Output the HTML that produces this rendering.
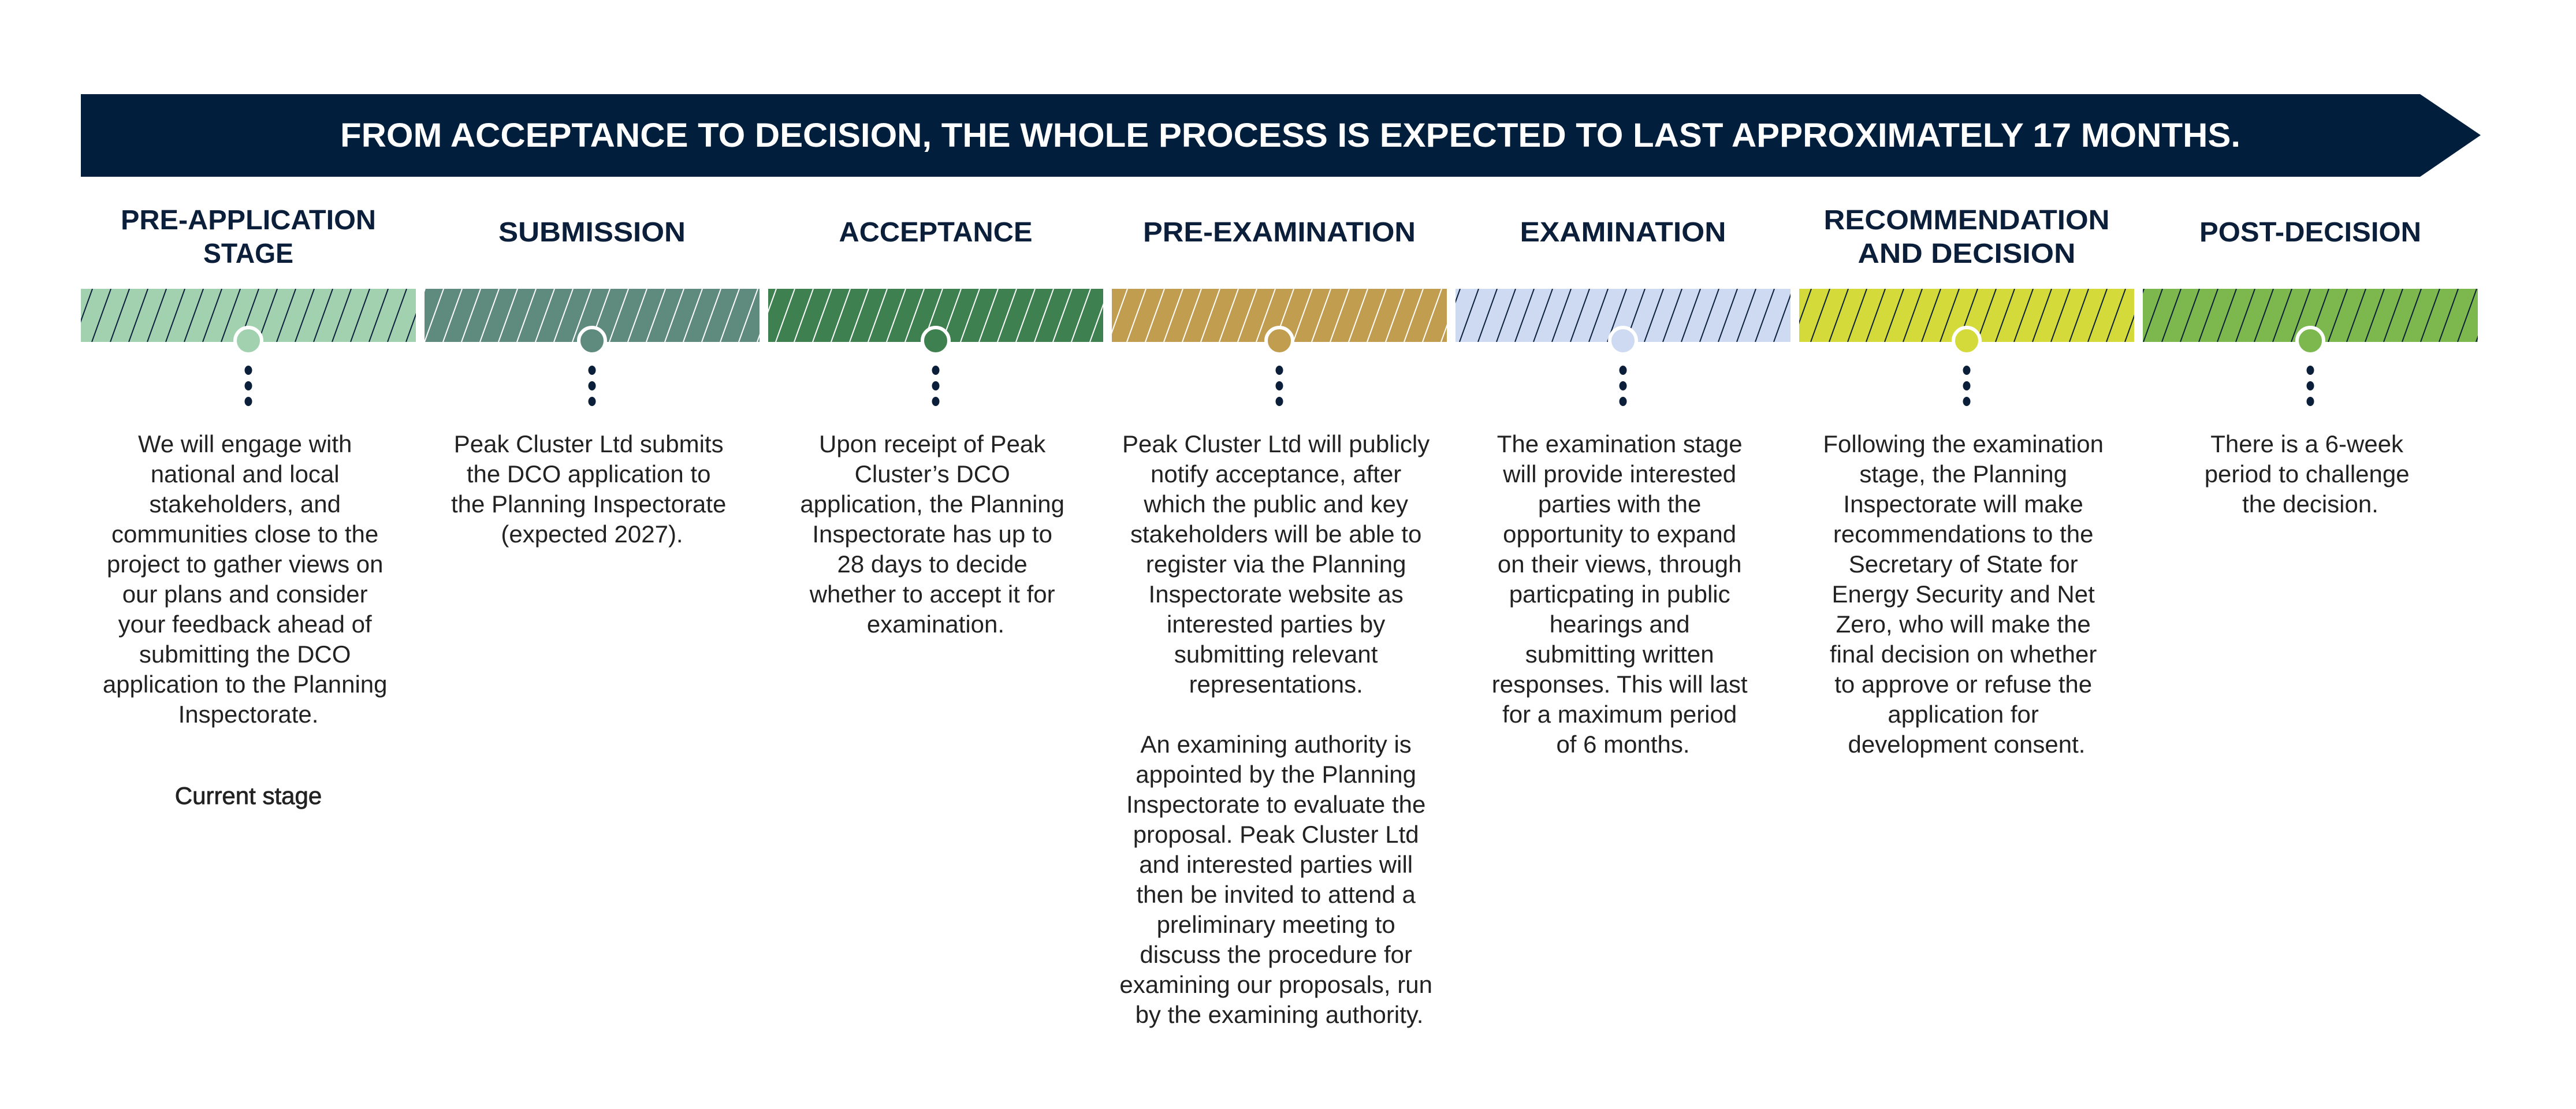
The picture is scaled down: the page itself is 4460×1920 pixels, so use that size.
<!DOCTYPE html>
<html><head><meta charset="utf-8"><style>
html,body{margin:0;padding:0;background:#fff;}
svg{display:block;}
.h{font-family:"Liberation Sans",sans-serif;font-weight:bold;fill:#0b1f3b;font-size:48px;}
.b{font-family:"Liberation Sans",sans-serif;fill:#222;font-size:42px;}
</style></head><body>
<svg width="4460" height="1920" viewBox="0 0 4460 1920" xmlns="http://www.w3.org/2000/svg">
<defs>
<pattern id="pd" patternUnits="userSpaceOnUse" width="32" height="92" x="0" y="500">
<line x1="-33" y1="92" x2="0" y2="0" stroke="#0b1f3b" stroke-width="2"/>
<line x1="-1" y1="92" x2="32" y2="0" stroke="#0b1f3b" stroke-width="2"/>
<line x1="31" y1="92" x2="64" y2="0" stroke="#0b1f3b" stroke-width="2"/>
</pattern>
<pattern id="pw" patternUnits="userSpaceOnUse" width="32" height="92" x="0" y="500">
<line x1="-33" y1="92" x2="0" y2="0" stroke="#fff" stroke-width="2"/>
<line x1="-1" y1="92" x2="32" y2="0" stroke="#fff" stroke-width="2"/>
<line x1="31" y1="92" x2="64" y2="0" stroke="#fff" stroke-width="2"/>
</pattern>
</defs>
<polygon points="140,163 4190,163 4295,234 4190,306 140,306" fill="#011e3c"/>
<text x="589" y="254" font-family="Liberation Sans,sans-serif" font-weight="bold" font-size="58" fill="#fff" textLength="3290" lengthAdjust="spacingAndGlyphs">FROM ACCEPTANCE TO DECISION, THE WHOLE PROCESS IS EXPECTED TO LAST APPROXIMATELY 17 MONTHS.</text>

<g class="h" text-anchor="middle">
<text x="430" y="397" textLength="442" lengthAdjust="spacingAndGlyphs">PRE-APPLICATION</text>
<text x="430" y="455" textLength="156" lengthAdjust="spacingAndGlyphs">STAGE</text>
<text x="1025" y="418" textLength="324" lengthAdjust="spacingAndGlyphs">SUBMISSION</text>
<text x="1620" y="418" textLength="335" lengthAdjust="spacingAndGlyphs">ACCEPTANCE</text>
<text x="2215" y="418" textLength="472" lengthAdjust="spacingAndGlyphs">PRE-EXAMINATION</text>
<text x="2810" y="418" textLength="357" lengthAdjust="spacingAndGlyphs">EXAMINATION</text>
<text x="3405" y="397" textLength="495" lengthAdjust="spacingAndGlyphs">RECOMMENDATION</text>
<text x="3405" y="455" textLength="377" lengthAdjust="spacingAndGlyphs">AND DECISION</text>
<text x="4000" y="418" textLength="384" lengthAdjust="spacingAndGlyphs">POST-DECISION</text>
</g>

<rect x="140" y="500" width="580" height="92" fill="#a2d1b0"/><rect x="140" y="500" width="580" height="92" fill="url(#pd)"/>
<rect x="735" y="500" width="580" height="92" fill="#5f8b7e"/><rect x="735" y="500" width="580" height="92" fill="url(#pw)"/>
<rect x="1330" y="500" width="580" height="92" fill="#3f8050"/><rect x="1330" y="500" width="580" height="92" fill="url(#pw)"/>
<rect x="1925" y="500" width="580" height="92" fill="#c19d4f"/><rect x="1925" y="500" width="580" height="92" fill="url(#pw)"/>
<rect x="2520" y="500" width="580" height="92" fill="#cddaf1"/><rect x="2520" y="500" width="580" height="92" fill="url(#pd)"/>
<rect x="3115" y="500" width="580" height="92" fill="#d5da3b"/><rect x="3115" y="500" width="580" height="92" fill="url(#pd)"/>
<rect x="3710" y="500" width="580" height="92" fill="#7db84e"/><rect x="3710" y="500" width="580" height="92" fill="url(#pd)"/>

<g stroke="#fff" stroke-width="6">
<circle cx="430" cy="590" r="23" fill="#a2d1b0"/>
<circle cx="1025" cy="590" r="23" fill="#5f8b7e"/>
<circle cx="1620" cy="590" r="23" fill="#3f8050"/>
<circle cx="2215" cy="590" r="23" fill="#c19d4f"/>
<circle cx="2810" cy="590" r="23" fill="#cddaf1"/>
<circle cx="3405" cy="590" r="23" fill="#d5da3b"/>
<circle cx="4000" cy="590" r="23" fill="#7db84e"/>
</g>

<g fill="#0b1f3b">
<ellipse cx="430" cy="641" rx="6.5" ry="8"/><ellipse cx="430" cy="668" rx="6.5" ry="8"/><ellipse cx="430" cy="695" rx="6.5" ry="8"/>
<ellipse cx="1025" cy="641" rx="6.5" ry="8"/><ellipse cx="1025" cy="668" rx="6.5" ry="8"/><ellipse cx="1025" cy="695" rx="6.5" ry="8"/>
<ellipse cx="1620" cy="641" rx="6.5" ry="8"/><ellipse cx="1620" cy="668" rx="6.5" ry="8"/><ellipse cx="1620" cy="695" rx="6.5" ry="8"/>
<ellipse cx="2215" cy="641" rx="6.5" ry="8"/><ellipse cx="2215" cy="668" rx="6.5" ry="8"/><ellipse cx="2215" cy="695" rx="6.5" ry="8"/>
<ellipse cx="2810" cy="641" rx="6.5" ry="8"/><ellipse cx="2810" cy="668" rx="6.5" ry="8"/><ellipse cx="2810" cy="695" rx="6.5" ry="8"/>
<ellipse cx="3405" cy="641" rx="6.5" ry="8"/><ellipse cx="3405" cy="668" rx="6.5" ry="8"/><ellipse cx="3405" cy="695" rx="6.5" ry="8"/>
<ellipse cx="4000" cy="641" rx="6.5" ry="8"/><ellipse cx="4000" cy="668" rx="6.5" ry="8"/><ellipse cx="4000" cy="695" rx="6.5" ry="8"/>
</g>

<g class="b" text-anchor="middle">
<text x="430" y="783">
<tspan x="430" dy="0">We will engage with</tspan>
<tspan x="430" dy="52">national and local</tspan>
<tspan x="430" dy="52">stakeholders, and</tspan>
<tspan x="430" dy="52">communities close to the</tspan>
<tspan x="430" dy="52">project to gather views on</tspan>
<tspan x="430" dy="52">our plans and consider</tspan>
<tspan x="430" dy="52">your feedback ahead of</tspan>
<tspan x="430" dy="52">submitting the DCO</tspan>
<tspan x="430" dy="52">application to the Planning</tspan>
<tspan x="430" dy="52">Inspectorate.</tspan>
</text>
<text x="430" y="1392" stroke="#222" stroke-width="0.8">Current stage</text>
<text x="1025" y="783">
<tspan x="1025" dy="0">Peak Cluster Ltd submits</tspan>
<tspan x="1025" dy="52">the DCO application to</tspan>
<tspan x="1025" dy="52">the Planning Inspectorate</tspan>
<tspan x="1025" dy="52">(expected 2027).</tspan>
</text>
<text x="1620" y="783">
<tspan x="1620" dy="0">Upon receipt of Peak</tspan>
<tspan x="1620" dy="52">Cluster’s DCO</tspan>
<tspan x="1620" dy="52">application, the Planning</tspan>
<tspan x="1620" dy="52">Inspectorate has up to</tspan>
<tspan x="1620" dy="52">28 days to decide</tspan>
<tspan x="1620" dy="52">whether to accept it for</tspan>
<tspan x="1620" dy="52">examination.</tspan>
</text>
<text x="2215" y="783">
<tspan x="2215" dy="0">Peak Cluster Ltd will publicly</tspan>
<tspan x="2215" dy="52">notify acceptance, after</tspan>
<tspan x="2215" dy="52">which the public and key</tspan>
<tspan x="2215" dy="52">stakeholders will be able to</tspan>
<tspan x="2215" dy="52">register via the Planning</tspan>
<tspan x="2215" dy="52">Inspectorate website as</tspan>
<tspan x="2215" dy="52">interested parties by</tspan>
<tspan x="2215" dy="52">submitting relevant</tspan>
<tspan x="2215" dy="52">representations.</tspan>
<tspan x="2215" dy="104">An examining authority is</tspan>
<tspan x="2215" dy="52">appointed by the Planning</tspan>
<tspan x="2215" dy="52">Inspectorate to evaluate the</tspan>
<tspan x="2215" dy="52">proposal. Peak Cluster Ltd</tspan>
<tspan x="2215" dy="52">and interested parties will</tspan>
<tspan x="2215" dy="52">then be invited to attend a</tspan>
<tspan x="2215" dy="52">preliminary meeting to</tspan>
<tspan x="2215" dy="52">discuss the procedure for</tspan>
<tspan x="2215" dy="52">examining our proposals, run</tspan>
<tspan x="2215" dy="52">by the examining authority.</tspan>
</text>
<text x="2810" y="783">
<tspan x="2810" dy="0">The examination stage</tspan>
<tspan x="2810" dy="52">will provide interested</tspan>
<tspan x="2810" dy="52">parties with the</tspan>
<tspan x="2810" dy="52">opportunity to expand</tspan>
<tspan x="2810" dy="52">on their views, through</tspan>
<tspan x="2810" dy="52">particpating in public</tspan>
<tspan x="2810" dy="52">hearings and</tspan>
<tspan x="2810" dy="52">submitting written</tspan>
<tspan x="2810" dy="52">responses. This will last</tspan>
<tspan x="2810" dy="52">for a maximum period</tspan>
<tspan x="2810" dy="52">of 6 months.</tspan>
</text>
<text x="3405" y="783">
<tspan x="3405" dy="0">Following the examination</tspan>
<tspan x="3405" dy="52">stage, the Planning</tspan>
<tspan x="3405" dy="52">Inspectorate will make</tspan>
<tspan x="3405" dy="52">recommendations to the</tspan>
<tspan x="3405" dy="52">Secretary of State for</tspan>
<tspan x="3405" dy="52">Energy Security and Net</tspan>
<tspan x="3405" dy="52">Zero, who will make the</tspan>
<tspan x="3405" dy="52">final decision on whether</tspan>
<tspan x="3405" dy="52">to approve or refuse the</tspan>
<tspan x="3405" dy="52">application for</tspan>
<tspan x="3405" dy="52">development consent.</tspan>
</text>
<text x="4000" y="783">
<tspan x="4000" dy="0">There is a 6-week</tspan>
<tspan x="4000" dy="52">period to challenge</tspan>
<tspan x="4000" dy="52">the decision.</tspan>
</text>
</g>
</svg>
</body></html>
